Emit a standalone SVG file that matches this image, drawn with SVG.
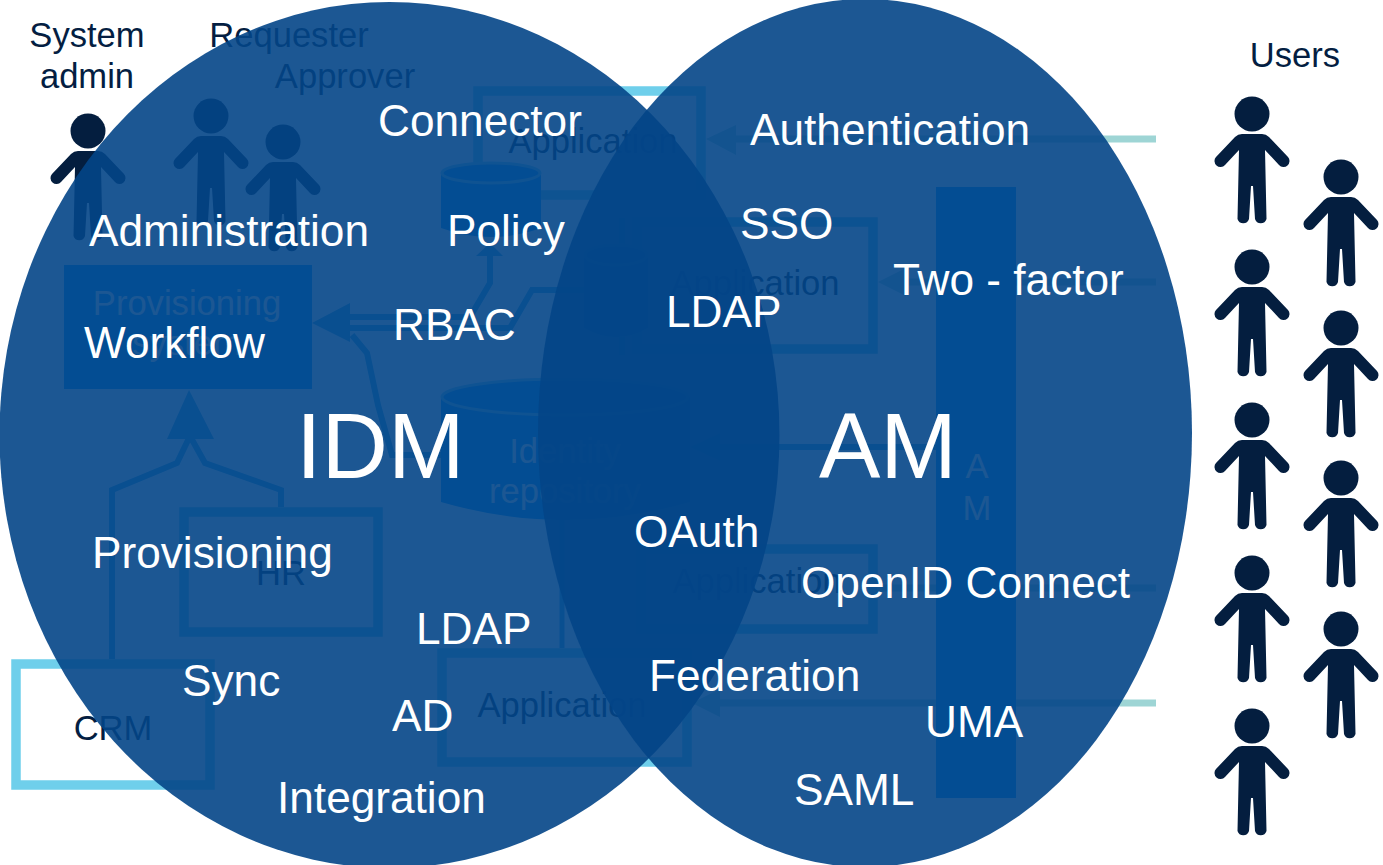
<svg xmlns="http://www.w3.org/2000/svg" width="1383" height="865" viewBox="0 0 1383 865">
<style>
text{font-family:"Liberation Sans",Arial,sans-serif}
.d{font-size:34.600px;fill:#041e42;text-anchor:middle}
.f{font-size:34.600px;fill:#fff;text-anchor:middle}
.w{font-size:44.200px;fill:#fff}
.b{font-size:92px;fill:#fff}
.box{fill:none;stroke:#5fc6e6;stroke-width:9.5}
.vis{fill:none;stroke:#6fcfeb;stroke-width:9.5}
.solid{fill:#0098f8}
.rim{fill:#0098f8;stroke:#7fd0f5;stroke-width:3}
.ln{fill:none;stroke:#3fa8dc;stroke-width:6}
.tl{fill:none;stroke:#9ed5d5;stroke-width:7}
.ah{fill:#3fa8dc}
.th{fill:#9ed5d5}
.ven{fill:#034587;fill-opacity:.9}
.p{fill:#041e3f}
</style>
<defs>
<g id="person"><circle r="17.500"/><path d="M-10,20 L10,20 Q14,20 17,23 L36,43 A6,6 0 0 1 27,51 L13,36 L14.500,105 A6,6 0 0 1 3,105 L1,72 L-1,72 L-3,105 A6,6 0 0 1 -14.500,105 L-13,36 L-27,51 A6,6 0 0 1 -36,43 L-17,23 Q-14,20 -10,20Z"/></g>
</defs>
<g id="connectors">
<path class="ln" d="M350,317 H470 L490,283 V256"/>
<path class="ah" d="M490,243 L503,256 H476Z"/>
<path class="ln" d="M350,328 H510 L532,290 H584"/>
<path class="ah" d="M312,323 L350,303 V342Z"/>
<path class="ln" d="M352,335 L367,353 L378,405 L392,455 H442"/>
<path class="ln" d="M112,659 V490 L177,463 L190,436 L205,463 L281,490 V507"/>
<path class="ah" d="M189,390 L214,439 H167Z"/>
<path class="ln" d="M622,218 V247 M622,337 V355"/>
<path class="ln" style="stroke-width:5" d="M562,520 V648"/>
<path class="tl" d="M736,139 H1156"/>
<path class="th" d="M706,139 L736,125 V155Z"/>
<path class="tl" d="M906,282 H1156"/>
<path class="th" d="M878,282 L906,268 V296Z"/>
<path class="tl" d="M878,588 H1156"/>
<path class="tl" d="M720,703 H1156"/>
<path class="th" d="M692,703 L720,689 V717Z"/>
<path class="ln" d="M720,447 H936"/>
<path class="ah" d="M690,447 L720,433 V461Z"/>
</g>
<g id="system-admin"><use href="#person" x="88" y="131" class="p"/><text class="d" x="87" y="47">System</text><text class="d" x="87" y="88">admin</text></g>
<g id="requester"><use href="#person" x="211" y="116" class="p"/><text class="d" x="289" y="47">Requester</text></g>
<g id="approver"><use href="#person" x="283" y="142" class="p"/><text class="d" x="345" y="88">Approver</text></g>
<g id="users"><text class="d" x="1295" y="67">Users</text>
<use href="#person" x="1252" y="114" class="p"/><use href="#person" x="1252" y="267" class="p"/><use href="#person" x="1252" y="420" class="p"/><use href="#person" x="1252" y="573" class="p"/><use href="#person" x="1252" y="726" class="p"/>
<use href="#person" x="1341" y="177" class="p"/><use href="#person" x="1341" y="328" class="p"/><use href="#person" x="1341" y="478" class="p"/><use href="#person" x="1341" y="629" class="p"/></g>
<g id="crm"><rect class="vis" x="16" y="664" width="194" height="121"/><text class="d" x="113" y="740">CRM</text></g>
<g id="hr"><rect class="box" x="184" y="512" width="194" height="120"/><text class="d" x="281" y="585">HR</text></g>
<g id="app-top"><rect class="vis" x="478" y="91" width="223" height="104"/><text class="d" x="593" y="153">Application</text></g>
<g id="app-mid"><rect class="box" x="637" y="222" width="236" height="127"/><text class="d" x="755" y="295">Application</text></g>
<g id="app-low"><rect class="box" x="641" y="549" width="232" height="80"/><text class="d" x="757" y="593">Application</text></g>
<g id="app-bottom"><rect class="vis" x="442" y="653" width="245" height="109"/><text class="d" x="562" y="717">Application</text></g>
<g id="policy-db"><path class="solid" d="M441,173 V228 Q491,246 541,228 V173Z"/><ellipse class="rim" cx="491" cy="173" rx="49" ry="10"/></g>
<g id="app-db"><path class="solid" d="M584,255 V328 Q616,346 648,328 V255Z"/><ellipse class="rim" cx="616" cy="255" rx="31" ry="10"/></g>
<g id="identity-repository"><path class="solid" d="M441,397 V502 Q565,538 690,502 V397Z"/><ellipse class="rim" cx="565" cy="397" rx="123" ry="18"/><text class="f" x="565" y="463">Identity</text><text class="f" x="565" y="503">repository</text></g>
<g id="provisioning-workflow"><rect class="solid" x="64" y="265" width="248" height="124"/><text class="f" x="187" y="315">Provisioning</text><text class="f" x="187" y="355">system</text></g>
<g id="am-bar"><rect class="solid" x="936" y="187" width="80" height="611"/><text class="f" x="977" y="478">A</text><text class="f" x="977" y="520">M</text></g>
<g id="venn"><ellipse class="ven" cx="389.500" cy="435" rx="390" ry="433"/><ellipse class="ven" cx="865" cy="433" rx="327" ry="434"/></g>
<g id="labels">
<text class="w" x="378" y="136">Connector</text>
<text class="w" x="750" y="145">Authentication</text>
<text class="w" x="89" y="246">Administration</text>
<text class="w" x="447" y="246">Policy</text>
<text class="w" x="740" y="239">SSO</text>
<text class="w" x="893" y="295">Two - factor</text>
<text class="w" x="393" y="340">RBAC</text>
<text class="w" x="666" y="327">LDAP</text>
<text class="w" x="84" y="358">Workflow</text>
<text class="b" x="296" y="478">IDM</text>
<text class="b" x="819" y="478">AM</text>
<text class="w" x="634" y="547">OAuth</text>
<text class="w" x="92" y="568">Provisioning</text>
<text class="w" x="801" y="598">OpenID Connect</text>
<text class="w" x="416" y="644">LDAP</text>
<text class="w" x="649" y="691">Federation</text>
<text class="w" x="182" y="696">Sync</text>
<text class="w" x="392" y="731">AD</text>
<text class="w" x="925" y="737">UMA</text>
<text class="w" x="794" y="805">SAML</text>
<text class="w" x="277" y="813">Integration</text>
</g>
</svg>
